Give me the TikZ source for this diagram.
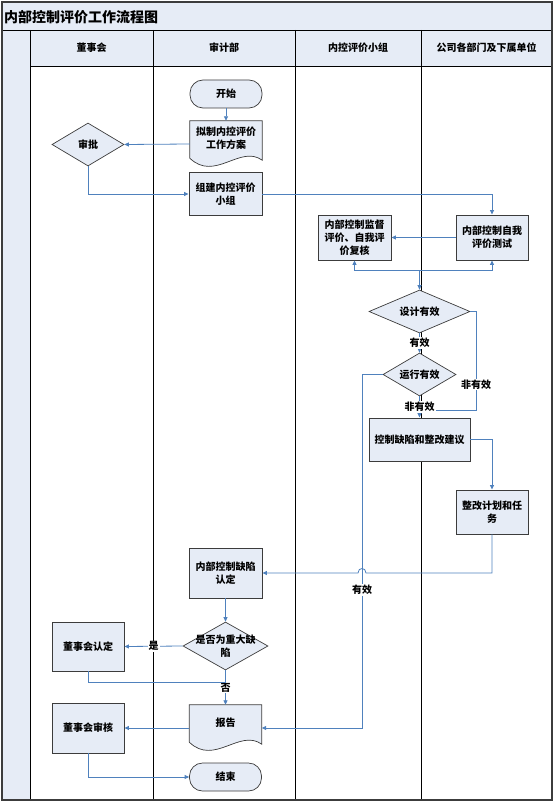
\documentclass[tikz,border=0pt]{standalone}
\usepackage{fontspec}
\setmainfont{Noto Sans CJK SC}
\usepackage{tikz}
\usetikzlibrary{shapes.geometric, arrows.meta, positioning, calc, backgrounds}
\definecolor{lanefill}{RGB}{230,236,246}
\definecolor{flowblue}{RGB}{79,129,189}
\definecolor{framegray}{RGB}{60,60,60}
\tikzstyle{flow} = [draw=flowblue, line width=0.8pt, ->, >={Triangle[length=4.5pt, width=4pt]}]
\newcommand{\docwave}[1]{%
  \draw[docline] (#1.north west) -- (#1.north east) -- ($(#1.south east)+(0,-7)$)
    .. controls ($(#1.south east)+(-22,-23)$) and ($(#1.south west)+(25,15)$) .. ($(#1.south west)+(0,-9)$) -- cycle;}

\begin{document}
\begin{tikzpicture}[
	x=1pt, y=-1pt,
	font=\fontsize{10}{13}\selectfont\bfseries,
	process/.style={rectangle, draw=framegray, line width=0.9pt, fill=lanefill, minimum width=73pt, minimum height=43pt, align=center, inner sep=1pt},
	terminal/.style={rectangle, rounded corners=13pt, draw=framegray, line width=0.7pt, fill=lanefill, minimum width=72pt, minimum height=28pt},
	decision/.style={diamond, draw=framegray, line width=0.7pt, fill=lanefill, aspect=2, inner sep=0pt, align=center},
	docbox/.style={rectangle, minimum width=72pt, minimum height=46pt, align=center, text depth=12pt},
	docline/.style={draw=framegray, line width=0.7pt, fill=lanefill},
	lane/.style={draw=black, line width=0.8pt},
	tag/.style={fill=white, inner sep=1pt}
]
\useasboundingbox (0,0) rectangle (554,802);

% Swimlanes
\fill[lanefill] (2,2) rectangle (552,66);
\fill[lanefill] (2,66) rectangle (30,800);
\draw[lane] (2,30) -- (552,30);
\draw[lane] (30,66) -- (552,66);
\foreach \x in {30,153,295,421} \draw[lane] (\x,30) -- (\x,800);
\draw[framegray, line width=1.2pt] (2,2) rectangle (552,800);

\node[font=\fontsize{14}{16}\selectfont\bfseries, anchor=west, inner sep=1pt] (title) at (3,17) {内部控制评价工作流程图};
\node (board) at (91.5,48) {董事会};
\node (audit) at (224,48) {审计部};
\node (group) at (358,48) {内控评价小组};
\node (depts) at (486.5,48) {公司各部门及下属单位};

% Nodes
\node[terminal] (start) at (226,94) {开始};
\node[docbox] (draft) at (226,144) {拟制内控评价\\工作方案};
\node[decision, minimum width=72pt, minimum height=43pt] (approve) at (88,144.5) {审批};
\node[process] (team) at (225.5,194) {组建内控评价\\小组};
\node[process, minimum height=45pt] (review) at (354.5,237.5) {内部控制监督\\评价、自我评\\价复核};
\node[process, minimum width=72pt, minimum height=45pt] (selftest) at (492,237.5) {内部控制自我\\评价测试};
\node[decision, minimum width=101pt, minimum height=43pt] (design) at (419.5,311.5) {设计有效};
\node[decision, minimum width=73pt, minimum height=43pt] (run) at (419.5,374.5) {运行有效};
\node[process, minimum width=101pt] (defect) at (419.5,439.5) {控制缺陷和整改建议};
\node[process, minimum width=72pt, minimum height=44pt] (plan) at (492,512) {整改计划和任\\务};
\node[process, minimum height=50pt] (confirm) at (225.5,573) {内部控制缺陷\\认定};
\node[decision, minimum width=85pt, minimum height=48pt, inner xsep=-12pt] (major) at (225.5,646) {是否为重大缺\\陷};
\node[process, minimum width=72pt, minimum height=49pt] (boardok) at (88,646.5) {董事会认定};
\node[docbox] (report) at (225.5,728) {报告};
\node[process, minimum width=72pt, minimum height=50pt] (boardchk) at (88,728) {董事会审核};
\node[terminal] (finish) at (225.5,777) {结束};

\begin{scope}[on background layer]
\docwave{draft}
\docwave{report}
\end{scope}

% Connectors
\draw[flow] (start) -- (draft);
\draw[flow] (draft.west) -- (approve.east);
\draw[flow] (approve.south) |- (team.west);
\draw[flow] (team.east) -| (selftest.north);
\draw[flow] (selftest.west) -- (review.east);

\coordinate (fork) at (419.5,270);
\draw[flow] (fork) -| (review.south);
\draw[flow] (fork) -| (selftest.south);
\draw[flow] (fork) -- (design.north);

\draw[flow] (design.south) -- node[tag] {有效} (run.north);
\coordinate (loop) at (476,410);
\draw[flow, -] (design.east) -| node[tag, pos=0.87] {非有效} (loop) -- (loop -| run.south);
\draw[flow] (run.south) -- node[tag] {非有效} (defect.north);

\coordinate (bypass) at (362,374.5);
\draw[flow] (run.west) -- (bypass) |- node[tag, pos=0.305] {有效} (report.east);

\draw[flow] (defect.east) -| (plan.north);
\coordinate (hopR) at (366,573);
\coordinate (hopL) at (358,573);
\draw[flow] (plan.south) |- (hopR) .. controls ($(hopR)+(0,-6)$) and ($(hopL)+(0,-6)$) .. (hopL) -- (confirm.east);

\draw[flow] (confirm) -- (major);
\draw[flow] (major.west) -- node[tag] {是} (boardok.east);
\draw[flow] (major.south) -- node[tag] {否} (report.north);
\coordinate (merge) at (225.5,682);
\draw[flow, -] (boardok.south) |- (merge);
\draw[flow] (report.west) -- (boardchk.east);
\draw[flow] (boardchk.south) |- (finish.west);

\end{tikzpicture}
\end{document}
